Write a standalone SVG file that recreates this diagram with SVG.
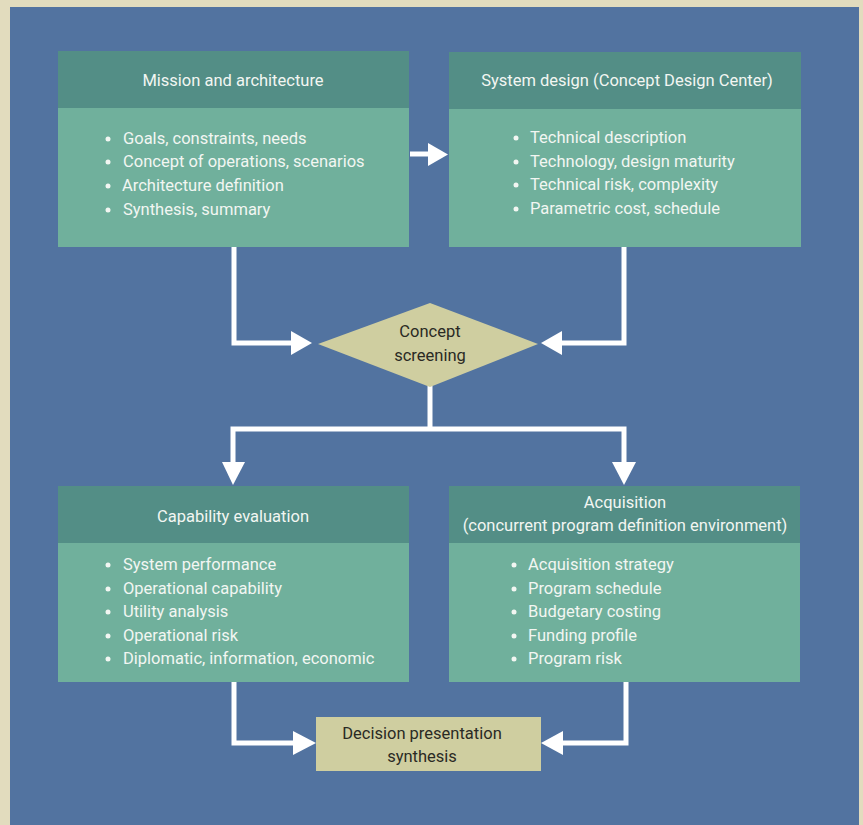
<svg xmlns="http://www.w3.org/2000/svg" width="863" height="825" viewBox="0 0 863 825">
<style>
.hd{fill:#538E86}
.bd{fill:#70B09C}
.tan{fill:#CFCEA0}
text{font-family:Roboto,"Liberation Sans",sans-serif;font-size:16.5px}
.w{fill:#F2F6F2}
.k{fill:#2A2A24}
.m{text-anchor:middle}
.ln{fill:none;stroke:#FFFFFF;stroke-width:5}
.ah{fill:#FFFFFF}
</style>
<rect x="0" y="0" width="863" height="825" fill="#E2DCBE"/>
<rect x="10" y="7" width="849" height="818" fill="#5273A0"/>

<g id="connectors">
<polyline class="ln" points="410,154 430,154"/>
<polygon class="ah" points="428,143 448,154.5 428,166"/>
<polyline class="ln" points="234,247 234,343 293,343"/>
<polygon class="ah" points="291,331 312,343 291,355"/>
<polyline class="ln" points="624,247 624,343 560,343"/>
<polygon class="ah" points="562,331 541,343 562,355"/>
<polyline class="ln" points="430,386 430,429"/>
<polyline class="ln" points="233,464 233,429 624,429 624,464"/>
<polygon class="ah" points="222,462 233,485 245,462"/>
<polygon class="ah" points="612,462 624,485 636,462"/>
<polyline class="ln" points="234,682 234,743 295,743"/>
<polygon class="ah" points="293,731 316,743 293,755"/>
<polyline class="ln" points="626,682 626,743 561,743"/>
<polygon class="ah" points="563,731 541,743 563,755"/>
</g>

<g id="mission">
<rect class="hd" x="58" y="51" width="351" height="57"/>
<rect class="bd" x="58" y="108" width="351" height="139"/>
<text class="w m" x="233" y="86">Mission and architecture</text>
<g class="w">
<circle cx="108" cy="139" r="2.5"/><text x="123" y="144">Goals, constraints, needs</text>
<circle cx="108" cy="162" r="2.5"/><text x="123" y="167">Concept of operations, scenarios</text>
<circle cx="108" cy="186" r="2.5"/><text x="122" y="191">Architecture definition</text>
<circle cx="108" cy="210" r="2.5"/><text x="123" y="215">Synthesis, summary</text>
</g>
</g>

<g id="system">
<rect class="hd" x="449" y="52" width="352" height="57"/>
<rect class="bd" x="449" y="109" width="352" height="138"/>
<text class="w m" x="627" y="86">System design (Concept Design Center)</text>
<g class="w">
<circle cx="516" cy="138" r="2.5"/><text x="530" y="143">Technical description</text>
<circle cx="516" cy="162" r="2.5"/><text x="530" y="167">Technology, design maturity</text>
<circle cx="516" cy="185" r="2.5"/><text x="530" y="190">Technical risk, complexity</text>
<circle cx="516" cy="209" r="2.5"/><text x="530" y="214">Parametric cost, schedule</text>
</g>
</g>

<g id="screening">
<polygon class="tan" points="430,303 538,344 430,387 318,344"/>
<text class="k m" x="430" y="337">Concept</text>
<text class="k m" x="430" y="361">screening</text>
</g>

<g id="capability">
<rect class="hd" x="58" y="486" width="351" height="57"/>
<rect class="bd" x="58" y="543" width="351" height="139"/>
<text class="w m" x="233" y="522">Capability evaluation</text>
<g class="w">
<circle cx="108" cy="565" r="2.5"/><text x="123" y="570">System performance</text>
<circle cx="108" cy="589" r="2.5"/><text x="123" y="594">Operational capability</text>
<circle cx="108" cy="612" r="2.5"/><text x="123" y="617">Utility analysis</text>
<circle cx="108" cy="636" r="2.5"/><text x="123" y="641">Operational risk</text>
<circle cx="108" cy="659" r="2.5"/><text x="123" y="664">Diplomatic, information, economic</text>
</g>
</g>

<g id="acquisition">
<rect class="hd" x="449" y="486" width="351" height="57"/>
<rect class="bd" x="449" y="543" width="351" height="139"/>
<text class="w m" x="625" y="508">Acquisition</text>
<text class="w m" x="625" y="531">(concurrent program definition environment)</text>
<g class="w">
<circle cx="514" cy="565" r="2.5"/><text x="528" y="570">Acquisition strategy</text>
<circle cx="514" cy="589" r="2.5"/><text x="528" y="594">Program schedule</text>
<circle cx="514" cy="612" r="2.5"/><text x="528" y="617">Budgetary costing</text>
<circle cx="514" cy="636" r="2.5"/><text x="528" y="641">Funding profile</text>
<circle cx="514" cy="659" r="2.5"/><text x="528" y="664">Program risk</text>
</g>
</g>

<g id="decision">
<rect class="tan" x="316" y="717" width="225" height="54"/>
<text class="k m" x="422" y="739">Decision presentation</text>
<text class="k m" x="422" y="762">synthesis</text>
</g>
</svg>
